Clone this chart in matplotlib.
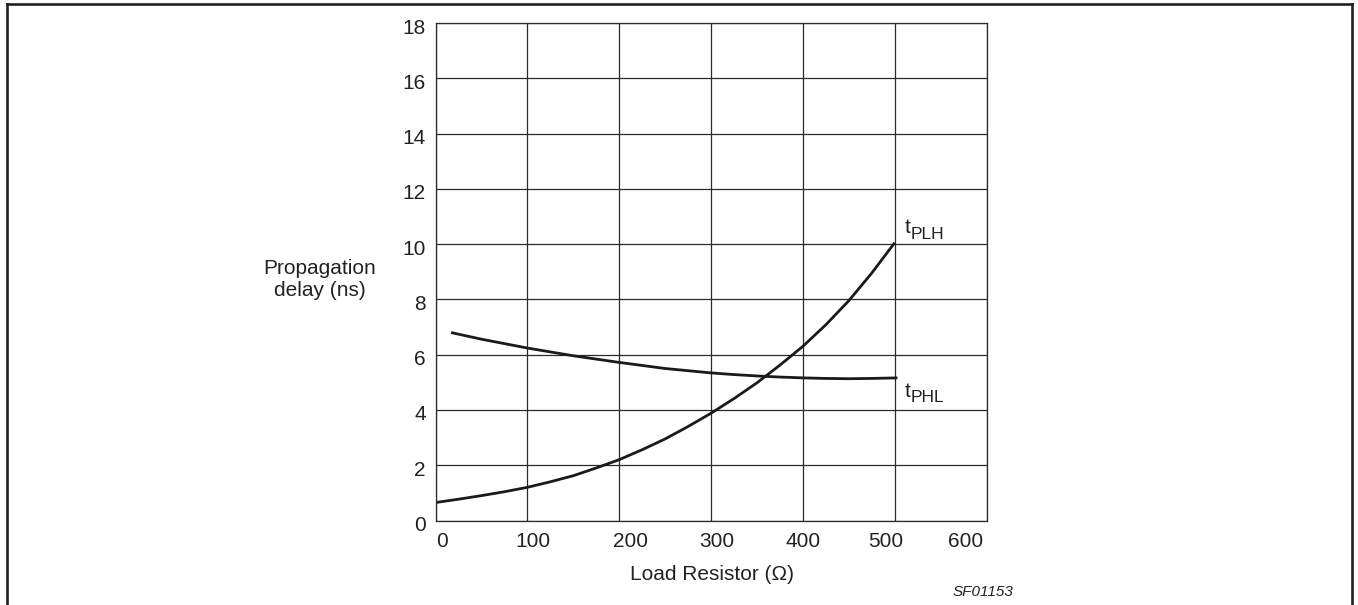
import numpy as np
import matplotlib.pyplot as plt
from matplotlib.lines import Line2D
from matplotlib.transforms import ScaledTranslation

plt.rcParams['font.family'] = ['Liberation Sans', 'DejaVu Sans']

# tPLH curve (load resistor in ohm, delay in ns)
r_plh = [0, 25, 50, 75, 100, 125, 150, 175, 200, 225, 250, 275, 300, 325,
         350, 375, 400, 425, 450, 475, 500]
t_plh = [0.65, 0.77, 0.9, 1.04, 1.2, 1.4, 1.62, 1.9, 2.2, 2.56, 2.95, 3.4, 3.88, 4.41,
         4.98, 5.62, 6.3, 7.08, 7.95, 8.95, 10.05]

# tPHL curve
r_phl = [17, 50, 75, 100, 125, 150, 175, 200, 225, 250, 275, 300, 325,
         350, 375, 400, 425, 450, 475, 503]
t_phl = [6.8, 6.56, 6.4, 6.24, 6.1, 5.96, 5.84, 5.72, 5.61, 5.5, 5.42, 5.34, 5.28,
         5.23, 5.19, 5.16, 5.14, 5.13, 5.14, 5.16]

x_ticks = [0, 100, 200, 300, 400, 500, 600]
y_ticks = [0, 2, 4, 6, 8, 10, 12, 14, 16, 18]
# label shifts in px, as in the original drawing
x_shift = [6, 6, 11, 6, 0, -9, -21]

fig = plt.figure(figsize=(13.58, 6.05), dpi=100)
ax = fig.add_axes([435.5/1358, 84.5/605, 551/1358, 497.5/605])

ax.plot(r_plh, t_plh, color='#1a1a1a', lw=2.0, solid_capstyle='butt')
ax.plot(r_phl, t_phl, color='#1a1a1a', lw=2.0, solid_capstyle='butt')

ax.set_xlim(0, 600)
ax.set_ylim(0, 18)
ax.set_xticks(x_ticks)
ax.set_yticks(y_ticks)
ax.grid(True, color='#2a2a2a', lw=0.9)
ax.set_axisbelow(True)
for s in ax.spines.values():
    s.set_color('#2a2a2a')
    s.set_linewidth(0.9)
ax.tick_params(length=0, labelsize=15, colors='#222222')
ax.tick_params(axis='x', pad=8)
ax.tick_params(axis='y', pad=7)

for lab, dx in zip(ax.get_xticklabels(), x_shift):
    lab.set_transform(lab.get_transform() + ScaledTranslation(dx/100, 0, fig.dpi_scale_trans))
for lab in ax.get_yticklabels():
    lab.set_transform(lab.get_transform() + ScaledTranslation(0, -3/100, fig.dpi_scale_trans))

# curve labels
ax.text(511.3, 10.4, 't', fontsize=15, color='#222222', va='baseline')
ax.text(517.5, 10.2, 'PLH', fontsize=12.5, color='#222222', va='baseline')
ax.text(511.3, 4.47, 't', fontsize=15, color='#222222', va='baseline')
ax.text(517.5, 4.3, 'PHL', fontsize=12.5, color='#222222', va='baseline')

fig.text(320/1358, 1-279/605, 'Propagation\ndelay (ns)', fontsize=15, color='#222222',
         ha='center', va='center', multialignment='center', linespacing=1.2)
fig.text(712/1358, 1-574/605, 'Load Resistor (\u03a9)', fontsize=15, color='#222222',
         ha='center', va='center')
fig.text(983/1358, 1-592/605, 'SF01153', fontsize=11, style='italic', color='#222222',
         ha='center', va='center')

# outer frame (open at the bottom)
fr = dict(color='#222222', lw=1.9, transform=fig.transFigure)
fig.add_artist(Line2D([7/1358, 7/1358], [0, 1-4/605], **fr))
fig.add_artist(Line2D([7/1358, 1352/1358], [1-4/605, 1-4/605], **fr))
fig.add_artist(Line2D([1352/1358, 1352/1358], [0, 1-4/605], **fr))

fig.savefig('out.png', dpi=100)
